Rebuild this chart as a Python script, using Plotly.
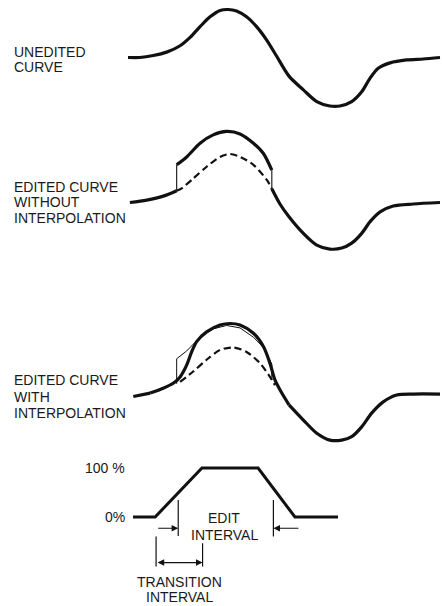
import plotly.graph_objects as go

# ---------------- data (time in ms, amplitude normalised to the unedited peak) ----------------
# Panel 1: unedited curve
t_unedited = [0, 3.8, 8.1, 12.4, 16.7, 19.9, 23.1, 26.3, 29.5, 32.1, 34.8, 38.0, 41.2, 44.4,
              47.7, 51.6, 56.2, 60.5, 64.7, 67.9, 71.7, 74.9, 77.6, 80.2, 84.0, 89.3, 94.6, 100]
a_unedited = [0.01, 0.01, 0.05, 0.12, 0.25, 0.42, 0.64, 0.84, 0.97, 0.99, 0.96, 0.84, 0.64, 0.37,
              0.03, -0.37, -0.65, -0.89, -0.98, -0.98, -0.89, -0.69, -0.41, -0.21, -0.10, -0.04, -0.02, 0.01]

# Panel 2: original curve as drawn there, and the edited segment (no interpolation)
t_orig2 = [0.6, 6.0, 11.3, 15.6, 17.2, 20.9, 25.2, 29.5, 32.7, 35.9, 40.2, 44.5, 46.1, 48.7,
           51.6, 56.2, 60.5, 64.7, 68.5, 71.7, 74.9, 77.6, 80.8, 85.0, 91.4, 100]
a_orig2 = [0.01, 0.06, 0.14, 0.25, 0.30, 0.50, 0.74, 0.94, 1.00, 0.94, 0.78, 0.47, 0.29, -0.02,
           -0.28, -0.62, -0.86, -0.94, -0.92, -0.82, -0.62, -0.38, -0.18, -0.06, -0.02, 0.01]
t_edit = [15.6, 18.8, 23.1, 27.3, 31.6, 35.9, 40.2, 43.4, 46.1]
a_edit = [0.78, 0.94, 1.22, 1.39, 1.46, 1.41, 1.22, 1.01, 0.67]

# Panel 3: original curve as drawn there, and the edited curve with interpolation
t_orig3 = [1.7, 7.1, 11.3, 14.5, 15.6, 16.7, 20.9, 25.2, 29.5, 33.8, 38.0, 42.3, 45.5, 46.1, 47.1,
           48.7, 51.6, 56.2, 60.5, 64.7, 68.5, 71.7, 74.9, 78.1, 81.8, 86.1, 91.4, 100]
a_orig3 = [0.01, 0.08, 0.15, 0.22, 0.27, 0.31, 0.52, 0.76, 0.96, 1.01, 0.92, 0.69, 0.41, 0.35, 0.24,
           0.11, -0.16, -0.47, -0.74, -0.88, -0.88, -0.81, -0.61, -0.33, -0.10, 0.04, 0.06, 0.06]
t_interp = [7.1, 11.3, 14.5, 16.7, 18.8, 20.4, 22.0, 25.2, 29.5, 32.7, 35.9, 40.2, 43.4, 45.5,
            47.1, 49.3, 51.6]
a_interp = [0.08, 0.18, 0.28, 0.41, 0.65, 0.92, 1.13, 1.33, 1.47, 1.50, 1.47, 1.30, 1.03, 0.69,
            0.35, 0.08, -0.16]

# Panel 4: editing gain (percent)
t_gain = [1.6, 8.7, 23.7, 41.7, 53.5, 67.3]
gain_pct = [0, 0, 100, 100, 0, 0]
edit_interval = [16.1, 46.6]
transition_interval = [9.0, 23.9]

# ---------------- layout constants ----------------
W, H = 442, 606
X0_PX, PX_PER_MS = 128, 3.12
PX_PER_UNIT = 49.0
INK = "#111111"
FONT = dict(family="Liberation Sans, Arial, sans-serif", size=14, color="#1a1a1a")


def yrange(base_px, px_per_unit):
    return [(base_px - H) / px_per_unit, base_px / px_per_unit]


def pick(ts, vs, lo=None, hi=None):
    xs, ys = [], []
    for t, v in zip(ts, vs):
        if (lo is None or t >= lo) and (hi is None or t <= hi):
            xs.append(t)
            ys.append(v)
    return xs, ys


thick = dict(color=INK, width=3.2, shape="spline", smoothing=0.8)
thin = dict(color=INK, width=1.1)
dashed = dict(color=INK, width=2.2, dash="7px,4px", shape="spline", smoothing=0.8)

fig = go.Figure()


def add(x, y, line, yaxis):
    fig.add_trace(go.Scatter(x=x, y=y, mode="lines", line=line, yaxis=yaxis,
                             hoverinfo="skip", showlegend=False))


# Panel 1
add(t_unedited, a_unedited, thick, "y")

# Panel 2
e0, e1 = t_edit[0], t_edit[-1]
x, y = pick(t_orig2, a_orig2, hi=e0); add(x, y, thick, "y2")
x, y = pick(t_orig2, a_orig2, lo=e1); add(x, y, thick, "y2")
x, y = pick(t_orig2, a_orig2, lo=e0, hi=e1); add(x, y, dashed, "y2")
add(t_edit, a_edit, thick, "y2")
o_start = a_orig2[t_orig2.index(e0)]
o_end = a_orig2[t_orig2.index(e1)]
add([e0, e0], [o_start, a_edit[0]], thin, "y2")
add([e1, e1], [a_edit[-1], o_end], thin, "y2")

# Panel 3
p0, p1 = t_interp[0], t_interp[-1]
x, y = pick(t_orig3, a_orig3, hi=p0); add(x, y, thick, "y3")
x, y = pick(t_orig3, a_orig3, lo=p1); add(x, y, thick, "y3")
x, y = pick(t_orig3, a_orig3, lo=16.7, hi=47.1); add(x, y, dashed, "y3")
o3_start = a_orig3[t_orig3.index(e0)]
o3_end = a_orig3[t_orig3.index(e1)]
add([e0] + t_edit + [e1], [o3_start] + a_edit + [o3_end], dict(color=INK, width=1.0), "y3")
add(t_interp, a_interp, thick, "y3")

# Panel 4
add(t_gain, gain_pct, dict(color=INK, width=3.0), "y4")

shapes = []
def vline(t, y0, y1):
    shapes.append(dict(type="line", xref="x", yref="y4", x0=t, x1=t, y0=y0, y1=y1,
                       line=dict(color=INK, width=1.2)))

vline(edit_interval[0], 34.7, -38.8)
vline(edit_interval[1], 34.7, -40.0)
vline(transition_interval[0], -40.0, -101.0)
vline(transition_interval[1], -53.5, -101.0)

ann = []
def arrow(head, tail, yv, both=False):
    ann.append(dict(x=head, y=yv, ax=tail, ay=yv, xref="x", yref="y4", axref="x", ayref="y4",
                    text="", showarrow=True, arrowhead=2, arrowsize=1.1, arrowwidth=1.2,
                    arrowcolor=INK, standoff=0, startstandoff=0,
                    arrowside="end+start" if both else "end"))

arrow(edit_interval[0], edit_interval[0] - 6.9, -23)
arrow(edit_interval[1], edit_interval[1] + 8.5, -23)
arrow(transition_interval[1], transition_interval[0], -93, both=True)

def label(text, xv, yv, xanchor="center", xref="x", yref="y4"):
    ann.append(dict(x=xv, y=yv, xref=xref, yref=yref, text=text, showarrow=False,
                    xanchor=xanchor, yanchor="middle", font=FONT))

mid_edit = (edit_interval[0] + edit_interval[1]) / 2
label("EDIT", mid_edit - 0.5, -2.7)
label("INTERVAL", mid_edit - 0.5, -36.7)
mid_tr = (transition_interval[0] + transition_interval[1]) / 2
label("TRANSITION", mid_tr, -132)
label("INTERVAL", mid_tr, -163)
label("100 %", -0.3, 100, xanchor="right")
label("0%", -0.3, 0, xanchor="right")

# left-hand labels (pixel layout -> paper coords)
for txt, ypx in [("UNEDITED", 51.7), ("CURVE", 66.7),
                 ("EDITED CURVE", 186.7), ("WITHOUT", 202.3), ("INTERPOLATION", 218.3),
                 ("EDITED CURVE", 380.0), ("WITH", 396.7), ("INTERPOLATION", 413.3)]:
    label(txt, 11.5 / W, 1 - ypx / H, xanchor="left", xref="paper", yref="paper")

xr = [-X0_PX / PX_PER_MS, (W - X0_PX) / PX_PER_MS]
ax_common = dict(visible=False, fixedrange=True)
fig.update_layout(
    width=W, height=H, margin=dict(l=0, r=0, t=0, b=0, pad=0),
    paper_bgcolor="white", plot_bgcolor="white",
    xaxis=dict(range=xr, **ax_common),
    yaxis=dict(range=yrange(58, PX_PER_UNIT), **ax_common),
    yaxis2=dict(range=yrange(203, PX_PER_UNIT), overlaying="y", **ax_common),
    yaxis3=dict(range=yrange(397, PX_PER_UNIT), overlaying="y", **ax_common),
    yaxis4=dict(range=yrange(517, PX_PER_UNIT / 100), overlaying="y", **ax_common),
    shapes=shapes, annotations=ann, hovermode=False, showlegend=False,
)

fig.write_html(
    "out.html",
    config=dict(displayModeBar=False, staticPlot=True),
    post_script="document.body.style.margin='0';document.body.style.padding='0';"
                "document.body.style.overflow='hidden';",
)
